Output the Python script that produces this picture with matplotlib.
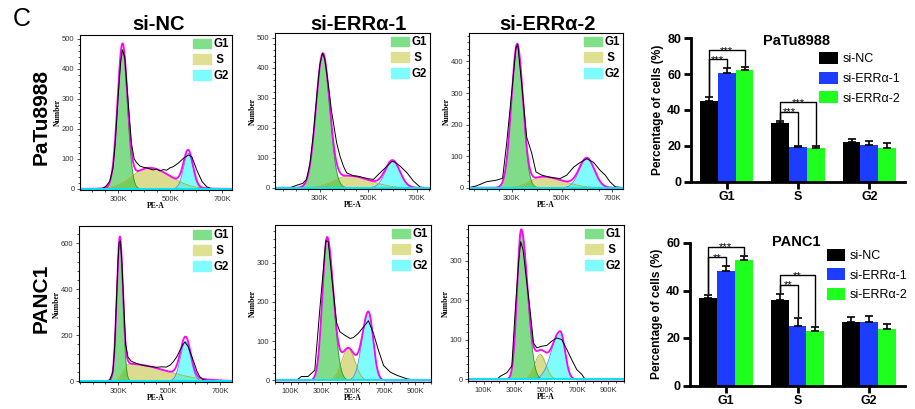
import numpy as np
import matplotlib
matplotlib.use("Agg")
import matplotlib.pyplot as plt
from matplotlib.patches import Patch
from matplotlib.ticker import MultipleLocator, AutoMinorLocator, FuncFormatter

plt.rcParams['font.family'] = ['Liberation Sans', 'DejaVu Sans']

W, H = 915, 409

# ---- flow cytometry panels: PaTu si-NC, si-ERRa-1, si-ERRa-2, PANC1 si-NC, si-ERRa-1, si-ERRa-2
# model fit components (x in K units of PE-A)
g1_mean = [317, 312, 322, 307, 334, 341]
g1_sd_left = [19, 28, 23, 12, 30, 26]
g1_sd_right = [19, 28, 23, 12, 40, 40]
g1_height = [465, 440, 452, 612, 365, 380]
s_mean = [420, 420, 425, 345, 470, 463]
s_sd_left = [65, 60, 50, 22, 42, 36]
s_sd_right = [80, 85, 80, 140, 42, 36]
s_height = [70, 40, 35, 75, 81, 63]
g2_mean = [570, 600, 600, 565, 599, 591]
g2_sd_left = [18, 30, 30, 20, 40, 55]
g2_sd_right = [18, 30, 30, 20, 30, 30]
g2_height = [118, 88, 92, 172, 175, 122]

# raw histogram (black line)
raw_x = [
    [150, 240, 255, 268, 281, 290, 300, 310, 317, 326, 339, 352, 362, 371, 384, 397, 410, 423, 435, 448,
     461, 474, 487, 500, 513, 532, 552, 571, 584, 603, 623, 642, 661, 738],
    [115, 176, 203, 230, 245, 259, 272, 279, 290, 300, 311, 320, 328, 340, 348, 360, 369, 383, 397, 410,
     438, 460, 479, 500, 521, 542, 569, 597, 610, 631, 659, 686, 714, 754],
    [130, 160, 200, 240, 264, 280, 300, 317, 324, 340, 360, 380, 397, 420, 453, 493, 520, 547, 573, 600,
     627, 653, 673, 693, 713, 744],
    [147, 255, 267, 280, 287, 293, 300, 304, 309, 314, 320, 326, 330, 339, 350, 359, 375, 398, 425, 451,
     470, 490, 505, 516, 530, 543, 555, 562, 575, 588, 600, 608, 620, 634, 660, 747],
    [0, 137, 169, 212, 255, 287, 326, 341, 373, 395, 416, 448, 481, 502, 534, 567, 599, 631, 663, 696,
     739, 782, 846, 911, 1000],
    [0, 185, 207, 249, 281, 303, 325, 338, 353, 375, 399, 420, 441, 473, 505, 537, 569, 601, 633, 665,
     697, 729, 751, 1000],
]
raw_y = [
    [0, 0, 10, 25, 70, 160, 300, 420, 462, 440, 290, 150, 100, 88, 76, 72, 70, 66, 63, 66,
     60, 64, 62, 70, 74, 86, 102, 113, 106, 62, 24, 6, 0, 0],
    [0, 0, 8, 15, 28, 80, 170, 230, 330, 410, 448, 430, 385, 310, 255, 195, 150, 105, 72, 50,
     40, 38, 34, 30, 28, 45, 66, 88, 85, 72, 50, 22, 2, 0],
    [0, 6, 19, 24, 30, 140, 300, 440, 455, 330, 160, 110, 50, 40, 33, 29, 40, 65, 80, 92,
     80, 55, 40, 18, 3, 0],
    [0, 0, 5, 40, 150, 330, 520, 600, 610, 540, 400, 250, 160, 105, 88, 83, 76, 68, 64, 60,
     62, 61, 70, 83, 105, 134, 160, 170, 150, 110, 75, 47, 20, 6, 0, 0],
    [0, 0, 10, 10, 26, 180, 356, 354, 230, 147, 124, 115, 107, 109, 120, 136, 152, 120, 77, 38,
     21, 13, 4, 0, 0],
    [0, 0, 8, 17, 34, 176, 300, 349, 328, 252, 172, 92, 80, 84, 86, 97, 105, 101, 76, 50,
     25, 13, 0, 0],
]

hist_xlim = [(154, 738), (115, 754), (130, 744), (147, 747), (0, 1000), (0, 1000)]
hist_ymax = [513, 515, 490, 675, 396, 391]
hist_ystep = [100, 100, 100, 200, 100, 100]
hist_xticks = [[300, 500, 700]] * 4 + [[100, 300, 500, 700, 900]] * 2
# pixel boxes (left, top, right, bottom)
hist_box = [(80, 35, 232, 190), (275, 33, 430, 189), (469, 33, 623, 189),
            (79, 226, 232, 382), (275, 225, 431, 382), (468, 225, 624, 381)]

col_titles = ['si-NC', 'si-ERRα-1', 'si-ERRα-2']
row_titles = ['PaTu8988', 'PANC1']

# ---- bar charts
phases = ['G1', 'S', 'G2']
groups = ['si-NC', 'si-ERRα-1', 'si-ERRα-2']
patu_nc = [44.9, 32.6, 22.1]
patu_e1 = [60.7, 19.1, 20.2]
patu_e2 = [62.5, 18.7, 19.0]
patu_nc_err = [2.3, 1.5, 1.8]
patu_e1_err = [2.6, 0.8, 2.4]
patu_e2_err = [1.5, 1.3, 2.4]
panc_nc = [36.7, 36.2, 26.6]
panc_e1 = [48.1, 25.0, 26.6]
panc_e2 = [53.0, 22.9, 23.8]
panc_nc_err = [1.6, 2.5, 2.1]
panc_e1_err = [2.1, 3.6, 2.5]
panc_e2_err = [1.7, 1.9, 2.1]
patu_sig = [(0, 1, '***'), (0, 2, '***'), (1, 1, '***'), (1, 2, '***')]
panc_sig = [(0, 1, '**'), (0, 2, '***'), (1, 1, '**'), (1, 2, '**')]

G1_COL, S_COL, G2_COL = '#2bc639', '#c6c646', '#2afaff'
LEG_COLS = ['#80e08a', '#e0e092', '#7ffcff']
BAR_COLS = ['#000000', '#1c3cff', '#1eff1e']


def axes_at(fig, box):
    l, t, r, b = box
    return fig.add_axes([l / W, 1 - b / H, (r - l) / W, (b - t) / H])


def split_gauss(x, mu, sl, sr, h):
    sd = np.where(x < mu, sl, sr)
    return h * np.exp(-0.5 * ((x - mu) / sd) ** 2)


def draw_hist(ax, i):
    x0, x1 = hist_xlim[i]
    x = np.linspace(x0, x1, 600)
    g1 = split_gauss(x, g1_mean[i], g1_sd_left[i], g1_sd_right[i], g1_height[i])
    s = split_gauss(x, s_mean[i], s_sd_left[i], s_sd_right[i], s_height[i])
    g2 = split_gauss(x, g2_mean[i], g2_sd_left[i], g2_sd_right[i], g2_height[i])

    ax.fill_between(x, 0, s, color=S_COL, alpha=0.6, lw=0)
    ax.plot(x, s, color='#b0b030', lw=0.6)
    ax.fill_between(x, 0, g1, color=G1_COL, alpha=0.6, lw=0)
    ax.plot(x, g1, color='#2a9d2a', lw=0.6)
    ax.fill_between(x, 0, g2, color=G2_COL, alpha=0.6, lw=0)
    ax.plot(x, g2, color='#3a8cff', lw=0.6)
    ax.plot(x, g1 + s + g2, color='#ff00ff', lw=1.3)
    ax.plot(raw_x[i], raw_y[i], color='black', lw=0.7)
    ax.axhline(0, color='#00e8ff', lw=1.4)

    ax.set_xlim(x0, x1)
    ax.set_ylim(-4, hist_ymax[i])
    ax.xaxis.set_major_locator(plt.FixedLocator(hist_xticks[i]))
    ax.xaxis.set_minor_locator(MultipleLocator(50))
    ax.xaxis.set_major_formatter(FuncFormatter(lambda v, p: '%dK' % v))
    ax.yaxis.set_major_locator(MultipleLocator(hist_ystep[i]))
    ax.yaxis.set_minor_locator(AutoMinorLocator(5))
    ax.tick_params(which='both', direction='out', colors='#333333', labelsize=5.5,
                   width=0.6, pad=1.5)
    ax.tick_params(which='major', length=2.5)
    ax.tick_params(which='minor', length=1.5)
    for sp in ax.spines.values():
        sp.set_linewidth(0.8)
    ax.set_xlabel('PE-A', fontsize=5.5, fontfamily='Liberation Serif', fontweight='bold', labelpad=-0.5)
    ax.set_ylabel('Number', fontsize=5.5, fontfamily='Liberation Serif', fontweight='bold', labelpad=0)

    handles = [Patch(facecolor=c, edgecolor=c) for c in LEG_COLS]
    ax.legend(handles, ['G1', ' S', 'G2'], loc='upper right', frameon=False,
              prop={'weight': 'bold', 'size': 8.3}, handlelength=1.55, handleheight=0.95,
              handletextpad=0.15, labelspacing=0.33, borderaxespad=0.2, borderpad=0.1)


def draw_bars(ax, means, errs, sig, ymax, title, title_y, leg_anchor):
    xs = np.arange(len(phases))
    width = 0.25
    tops = []
    for k, (m, e) in enumerate(zip(means, errs)):
        pos = xs + (k - 1) * width
        ax.bar(pos, m, width, color=BAR_COLS[k], label=groups[k], zorder=2)
        ax.errorbar(pos, m, yerr=[np.zeros(len(m)), e], fmt='none', ecolor='black',
                    elinewidth=1.2, capsize=3, capthick=1.2, zorder=3)
        tops.append(np.array(m) + np.array(e))

    px = ymax / (ax.get_position().height * H)
    last = {}
    for cat, k, label in sig:
        xa = cat - width
        xb = cat + (k - 1) * width
        ta, tb = tops[0][cat], tops[k][cat]
        level = max(ta, tb) + 9 * px
        if cat in last:
            level = max(level, last[cat] + 9.5 * px)
        last[cat] = level
        ax.plot([xa, xa, xb, xb], [ta + 1.5 * px, level, level, tb + 1.5 * px],
                color='black', lw=1, zorder=4)
        ax.annotate(label, ((xa + xb) / 2, level), xytext=(0, -2.8), textcoords='offset points',
                    ha='center', va='baseline', fontsize=8)

    ax.set_xlim(-0.5, 2.5)
    ax.set_ylim(0, ymax)
    ax.set_xticks(xs)
    ax.set_xticklabels(phases, fontweight='bold', fontsize=9)
    ax.yaxis.set_major_locator(MultipleLocator(20))
    for lab in ax.get_yticklabels():
        lab.set_fontweight('bold')
    ax.tick_params(axis='both', width=2, length=5, labelsize=9, pad=2)
    ax.tick_params(axis='x', pad=2)
    for side in ['top', 'right']:
        ax.spines[side].set_visible(False)
    for side in ['left', 'bottom']:
        ax.spines[side].set_linewidth(2)
    ax.set_ylabel('Percentage of cells (%)', fontweight='bold', fontsize=8.6, labelpad=2)
    ax.text(0.495, title_y, title, transform=ax.transAxes, ha='center', va='center',
            fontweight='bold', fontsize=10.5)
    ax.legend(loc='upper left', bbox_to_anchor=leg_anchor, frameon=False, fontsize=9,
              handlelength=1.45, handleheight=1.1, handletextpad=0.4, labelspacing=0.52,
              borderaxespad=0, borderpad=0)


fig = plt.figure(figsize=(W / 100, H / 100), dpi=100)

for i in range(6):
    ax = axes_at(fig, hist_box[i])
    draw_hist(ax, i)

fig.text(13 / W, 1 - 19 / H, 'C', fontsize=18, ha='left', va='center')
for j, (cx, t) in enumerate(zip([159, 358.7, 547.5], col_titles)):
    fig.text(cx / W, 1 - 24 / H, t, fontsize=14.5, fontweight='bold', ha='center', va='center')
for yc, t in zip([117, 298], row_titles):
    fig.text(41 / W, 1 - yc / H, t, fontsize=15, fontweight='bold', rotation=90,
             ha='center', va='center')

ax_b1 = axes_at(fig, (691, 38.3, 905, 181.7))
draw_bars(ax_b1, [patu_nc, patu_e1, patu_e2], [patu_nc_err, patu_e1_err, patu_e2_err],
          patu_sig, 80, 'PaTu8988', 0.983, (0.60, 0.905))
ax_b2 = axes_at(fig, (690, 243, 905, 385.5))
draw_bars(ax_b2, [panc_nc, panc_e1, panc_e2], [panc_nc_err, panc_e1_err, panc_e2_err],
          panc_sig, 60, 'PANC1', 1.01, (0.635, 0.96))

fig.savefig('out.png', dpi=100)
